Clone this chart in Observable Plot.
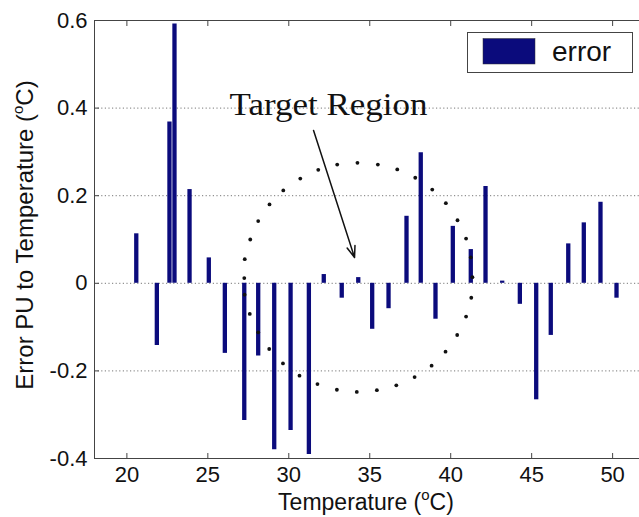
<!DOCTYPE html>
<html><head><meta charset="utf-8">
<script src="https://cdn.jsdelivr.net/npm/d3@7"></script>
<script src="https://cdn.jsdelivr.net/npm/@observablehq/plot@0.6"></script>
<style>
html,body{margin:0;padding:0;background:#fff;overflow:hidden}
#chart{width:639px;height:517px}
</style></head><body><div id="chart"></div>
<script>
// Bar data: temperature (°C) and error
const temperatures = [20.58,21.85,22.63,22.94,23.87,25.06,26.05,27.25,28.11,29.10,30.11,31.24,32.16,33.27,34.29,35.15,36.16,37.27,38.15,39.06,40.13,41.24,42.15,43.18,44.27,45.28,46.18,47.26,48.22,49.25,50.24];
const errors = [0.113,-0.142,0.368,0.592,0.214,0.058,-0.160,-0.313,-0.166,-0.380,-0.336,-0.391,0.020,-0.034,0.013,-0.105,-0.058,0.153,0.298,-0.082,0.130,0.077,0.221,0.005,-0.048,-0.266,-0.119,0.090,0.138,0.185,-0.034];
// Dotted "target region" ring, dots
const ringT = [41.34,41.24,40.95,40.42,39.70,38.86,37.81,36.70,35.50,34.24,32.99,31.82,30.71,29.66,28.81,28.11,27.62,27.28,27.25,27.27,27.59,28.11,28.79,29.64,30.66,31.77,32.97,34.20,35.44,36.64,37.77,38.82,39.68,40.40,40.95,41.27];
const ringV = [0.014,0.059,0.102,0.144,0.183,0.214,0.241,0.260,0.271,0.275,0.271,0.259,0.239,0.212,0.180,0.142,0.100,0.055,0.012,-0.026,-0.070,-0.112,-0.150,-0.183,-0.211,-0.230,-0.243,-0.248,-0.244,-0.233,-0.214,-0.188,-0.156,-0.118,-0.076,-0.033];
const xTicks = [20,25,30,35,40,45,50];
const yTicks = [-0.4,-0.2,0,0.2,0.4,0.6];
const yTickLabels = ["-0.4","-0.2","0","0.2","0.4","0.6"];
const gridValues = [-0.2,0,0.2,0.4];
const seriesName = "error";
const annotationText = "Target Region";
const xLabel = "Temperature (";
const yLabel = "Error PU to Temperature (";

const bars = temperatures.map((T, i) => ({T, v: errors[i]}));
const ring = ringT.map((T, i) => ({T, v: ringV[i]}));
const navy = "#0b0b7c";
const axisColor = "#444";

const plot = Plot.plot({
  width: 639, height: 517,
  marginLeft: 94, marginRight: 0, marginTop: 20, marginBottom: 59,
  style: {fontFamily: "'Liberation Sans', Arial, sans-serif", fontSize: "22px", color: "#111", background: "#fff"},
  x: {domain: [18, 51.66], label: null},
  y: {domain: [-0.4, 0.6], label: null},
  marks: [
    Plot.ruleY(gridValues, {stroke: "#777", strokeDasharray: "1.2,2.4", strokeWidth: 1}),
    Plot.ruleX(bars, {x: "T", y1: 0, y2: "v", stroke: navy, strokeWidth: 4.3}),
    Plot.dot(ring, {x: "T", y: "v", r: 1.9, fill: "#111", stroke: "none"}),
    Plot.arrow([{x1: 31.53, y1: 0.349, x2: 34.06, y2: 0.059}], {x1: "x1", y1: "y1", x2: "x2", y2: "y2", stroke: "#111", strokeWidth: 1.5, headLength: 12, headAngle: 40}),
    Plot.text([annotationText], {x: 32.45, y: 0.407, text: d => d, fontFamily: "'Liberation Serif', 'Times New Roman', serif", fontSize: 32, fill: "#111", className: "annot"}),
    Plot.axisX(xTicks, {anchor: "bottom", tickSize: -5, tickPadding: 13, stroke: axisColor, label: null, fontSize: 22}),
    Plot.axisX(xTicks, {anchor: "top", tickSize: -5, tickFormat: () => "", stroke: axisColor, label: null}),
    Plot.axisY(yTicks, {anchor: "left", tickSize: -5, tickPadding: 12, tickFormat: d => yTickLabels[yTicks.indexOf(d)], stroke: axisColor, label: null, fontSize: 22}),
    Plot.ruleY([-0.4, 0.6], {stroke: axisColor}),
    Plot.ruleX([18], {stroke: axisColor})
  ]
});

const svg = d3.select(plot);
// stretch annotation a little to match the reference width
svg.selectAll("g.annot text").attr("textLength", 198).attr("lengthAdjust", "spacingAndGlyphs");
// y axis label with superscript o
const yl = svg.append("text").attr("transform", "translate(33,235) rotate(-90)")
  .attr("text-anchor", "middle").attr("font-size", 24).attr("fill", "#111");
yl.append("tspan").text(yLabel);
yl.append("tspan").attr("font-size", 15).attr("dy", -10).text("o");
yl.append("tspan").attr("dy", 10).text("C)");
// x axis label
const xl = svg.append("text").attr("x", 366).attr("y", 510)
  .attr("text-anchor", "middle").attr("font-size", 23).attr("fill", "#111");
xl.append("tspan").text(xLabel);
xl.append("tspan").attr("font-size", 15).attr("dy", -10).text("o");
xl.append("tspan").attr("dy", 10).text("C)");
// legend
const lg = svg.append("g");
lg.append("rect").attr("x", 467.5).attr("y", 32.5).attr("width", 165).attr("height", 40)
  .attr("fill", "#fff").attr("stroke", axisColor);
lg.append("rect").attr("x", 483).attr("y", 38.5).attr("width", 52).attr("height", 25.5)
  .attr("fill", navy).attr("stroke", "#333").attr("stroke-width", 0.5);
lg.append("text").attr("x", 552).attr("y", 61).attr("text-anchor", "start")
  .attr("font-size", 28).attr("fill", "#111").text(seriesName);

document.getElementById("chart").appendChild(plot);
</script>
</body></html>
